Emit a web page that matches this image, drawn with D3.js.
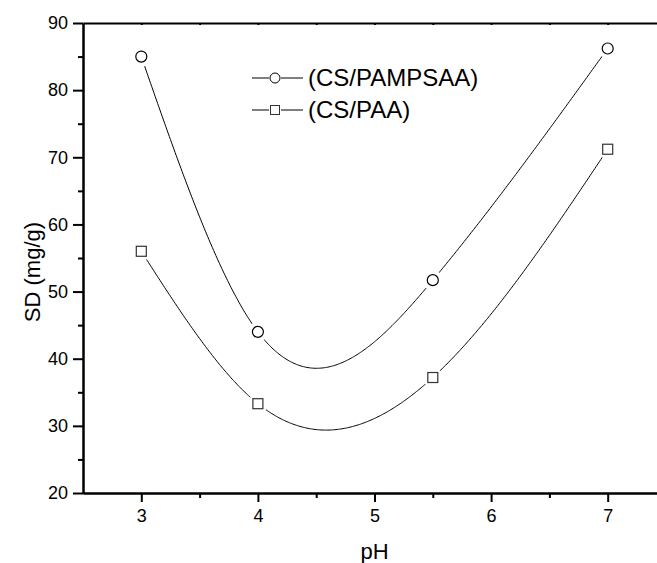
<!DOCTYPE html>
<html><head><meta charset="utf-8">
<script src="https://cdn.jsdelivr.net/npm/d3@7"></script>
<style>body{margin:0;background:#fff}svg{display:block}text{font-family:Arial,"Liberation Sans",sans-serif;fill:#000}</style>
</head><body>
<script>
const pH = [3, 4, 5.5, 7];
const csPampsaa = [85, 44, 51.7, 86.2];
const csPaa = [56, 33.3, 37.2, 71.2];
const seriesNames = ["(CS/PAMPSAA)", "(CS/PAA)"];
const xTicks = [3, 4, 5, 6, 7];
const yTicks = [20, 30, 40, 50, 60, 70, 80, 90];

// natural cubic spline y(x) through the data points
function naturalSpline(xs, ys) {
  const n = xs.length, h = [], M = new Array(n).fill(0);
  for (let i = 0; i < n - 1; i++) h.push(xs[i + 1] - xs[i]);
  const a = [], b = [], c = [], r = [];
  for (let i = 1; i < n - 1; i++) {
    a.push(h[i - 1]); b.push(2 * (h[i - 1] + h[i])); c.push(h[i]);
    r.push(6 * ((ys[i + 1] - ys[i]) / h[i] - (ys[i] - ys[i - 1]) / h[i - 1]));
  }
  const m = b.length;
  for (let i = 1; i < m; i++) { const w = a[i] / b[i - 1]; b[i] -= w * c[i - 1]; r[i] -= w * r[i - 1]; }
  const sol = new Array(m);
  for (let i = m - 1; i >= 0; i--) sol[i] = (r[i] - (i < m - 1 ? c[i] * sol[i + 1] : 0)) / b[i];
  for (let i = 0; i < m; i++) M[i + 1] = sol[i];
  return function (t) {
    let k = 0; while (k < n - 2 && t > xs[k + 1]) k++;
    const hk = h[k], A = xs[k + 1] - t, B = t - xs[k];
    return M[k] * A * A * A / (6 * hk) + M[k + 1] * B * B * B / (6 * hk)
      + (ys[k] / hk - M[k] * hk / 6) * A + (ys[k + 1] / hk - M[k + 1] * hk / 6) * B;
  };
}

(function () {
const W = 657, H = 563;
const svg = d3.select("body").append("svg").attr("width", W).attr("height", H);
const mL = 83, mT = 23, mB = 493;
const x = d3.scaleLinear().domain([2.5, 7.5]).range([mL, mL + 5 * 116.6]);
const y = d3.scaleLinear().domain([20, 90]).range([mB, mT]);

const gx = svg.append("g").attr("transform", `translate(0,${mB})`)
  .call(d3.axisBottom(x).tickValues(xTicks).tickFormat(d3.format("d")).tickSize(9).tickSizeOuter(0).tickPadding(6));
const gxm = svg.append("g").attr("transform", `translate(0,${mB})`)
  .call(d3.axisBottom(x).tickValues([3.5, 4.5, 5.5, 6.5]).tickFormat("").tickSize(5).tickSizeOuter(0));
const gy = svg.append("g").attr("transform", `translate(${mL},0)`)
  .call(d3.axisLeft(y).tickValues(yTicks).tickFormat(d3.format("d")).tickSize(10).tickSizeOuter(0).tickPadding(5));
const gym = svg.append("g").attr("transform", `translate(${mL},0)`)
  .call(d3.axisLeft(y).tickValues([25, 35, 45, 55, 65, 75, 85]).tickFormat("").tickSize(5).tickSizeOuter(0));
const gt = svg.append("g").attr("transform", `translate(0,${mT})`)
  .call(d3.axisTop(x).tickValues([3, 3.5, 4, 4.5, 5, 5.5, 6, 6.5, 7]).tickFormat("").tickSize(-2).tickSizeOuter(0));
[gx, gxm, gy, gym, gt].forEach(g => {
  g.select(".domain").attr("stroke", "#000").attr("stroke-width", 2);
  g.selectAll(".tick line").attr("stroke", "#000").attr("stroke-width", 2);
  g.selectAll(".tick text").style("font-size", "18px").attr("fill", "#000");
});
gx.selectAll(".tick text").attr("dy", "0.75em");

svg.append("text").attr("x", x(5)).attr("y", 559).attr("text-anchor", "middle")
  .style("font-size", "22px").text("pH");
svg.append("text").attr("transform", "translate(40,272) rotate(-90)")
  .attr("text-anchor", "middle").style("font-size", "22px").text("SD (mg/g)");

svg.append("defs").append("clipPath").attr("id", "c")
  .append("rect").attr("x", mL).attr("y", mT).attr("width", W - mL).attr("height", mB - mT);
const plot = svg.append("g").attr("clip-path", "url(#c)");

const line = d3.line().x(d => x(d[0])).y(d => y(d[1]));
[csPampsaa, csPaa].forEach(vals => {
  const f = naturalSpline(pH, vals);
  const pts = d3.range(0, 401).map(i => { const t = pH[0] + (pH[pH.length - 1] - pH[0]) * i / 400; return [t, f(t)]; });
  plot.append("path").attr("d", line(pts)).attr("fill", "none").attr("stroke", "#000").attr("stroke-width", 1);
});
[csPampsaa, csPaa].forEach(vals => {
  plot.selectAll(null).data(vals).enter().append("circle")
    .attr("cx", (d, i) => x(pH[i])).attr("cy", d => y(d)).attr("r", 10).attr("fill", "#fff");
});
plot.selectAll(null).data(csPampsaa).enter().append("circle")
  .attr("cx", (d, i) => x(pH[i])).attr("cy", d => y(d)).attr("r", 5.5)
  .attr("fill", "#fff").attr("stroke", "#000").attr("stroke-width", 1.2);
plot.selectAll(null).data(csPaa).enter().append("rect")
  .attr("x", (d, i) => x(pH[i]) - 5).attr("y", d => y(d) - 5).attr("width", 10).attr("height", 10)
  .attr("fill", "#fff").attr("stroke", "#333").attr("stroke-width", 1.2);

const lg = svg.append("g");
const ly = [78, 110];
seriesNames.forEach((name, i) => {
  const yy = ly[i];
  lg.append("line").attr("x1", 252).attr("x2", 269).attr("y1", yy).attr("y2", yy).attr("stroke", "#000");
  lg.append("line").attr("x1", 281).attr("x2", 303).attr("y1", yy).attr("y2", yy).attr("stroke", "#000");
  if (i === 0) lg.append("circle").attr("cx", 275).attr("cy", yy).attr("r", 5).attr("fill", "#fff").attr("stroke", "#000");
  else lg.append("rect").attr("x", 270.5).attr("y", yy - 4.5).attr("width", 9).attr("height", 9).attr("fill", "#fff").attr("stroke", "#333");
  lg.append("text").attr("x", 308).attr("y", yy + 8).style("font-size", "24px").text(name);
});
})();
</script>
</body></html>
